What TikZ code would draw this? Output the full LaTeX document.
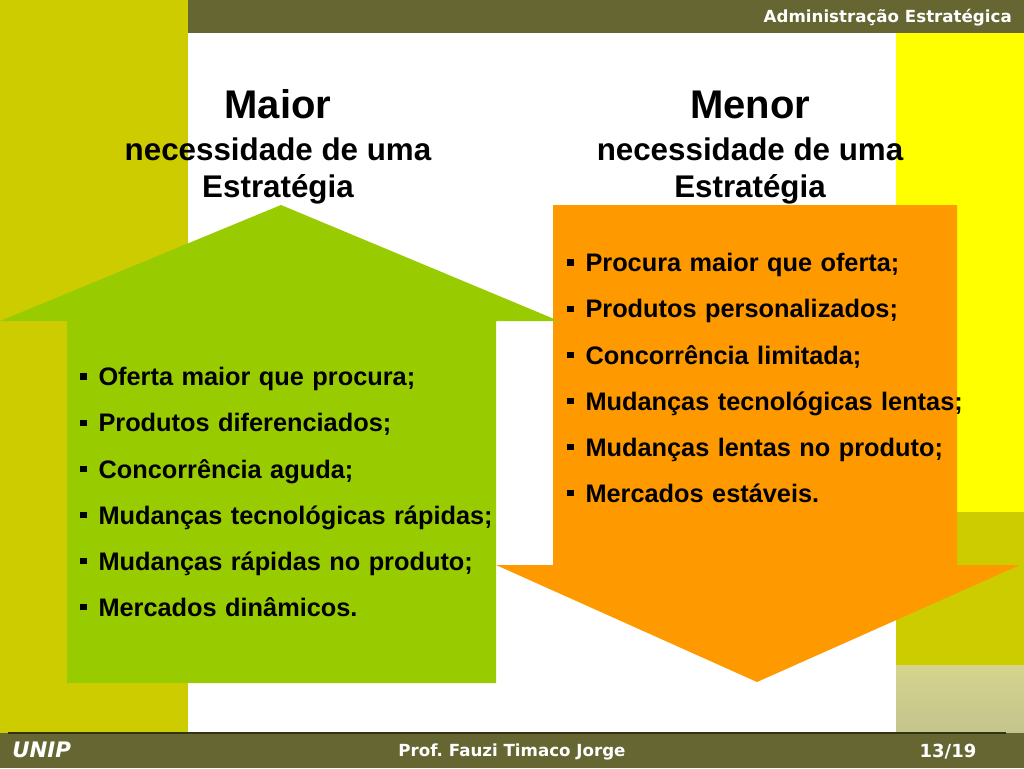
\documentclass[tikz,border=0pt]{standalone}
\usepackage{fontspec}
\setmainfont{Liberation Sans}
\newfontfamily\verdana{DejaVu Sans}
\usetikzlibrary{positioning}
\definecolor{unipolive}{HTML}{CCCC00}
\definecolor{unipdark}{HTML}{666633}
\definecolor{unipyellow}{HTML}{FFFF00}
\definecolor{unipgreen}{HTML}{99CC00}
\definecolor{uniporange}{HTML}{FF9900}
\definecolor{unipkhaki}{HTML}{D4D48C}
\definecolor{unipkhakib}{HTML}{C4C48E}
\definecolor{unipline}{HTML}{333311}
\newcommand{\sqb}{\raisebox{0.24em}{\rule{0.25em}{0.25em}}\hspace{0.47em}}

\begin{document}
\begin{tikzpicture}[x=0.75pt, y=-0.75pt,
        node distance=0pt,
        item/.style={inner sep=0pt, text width=310pt, align=left, minimum height=34.2pt, text height=0.72em, text depth=0pt, font=\fontsize{19}{22}\selectfont\bfseries},
        bighead/.style={anchor=base, inner sep=0pt, font=\fontsize{30}{34}\selectfont\bfseries},
        subhead/.style={anchor=base, inner sep=0pt, font=\fontsize{23.5}{27}\selectfont\bfseries},
        bartext/.style={inner sep=0pt, text=white, font=\verdana\fontsize{12.5}{14}\selectfont\bfseries}
    ]
        % Background
        \fill[white] (0,0) rectangle (1024,768);
        \fill[unipolive] (0,0) rectangle (188,733);
        \fill[unipdark] (188,0) rectangle (1024,33);
        \fill[unipyellow] (896,33) rectangle (1024,512);
        \fill[unipolive] (896,512) rectangle (1024,665);
        \shade[top color=unipkhaki, bottom color=unipkhakib] (896,665) rectangle (1024,733);
        \fill[unipdark] (0,733) rectangle (1024,768);
        \draw[unipline, line width=1.2pt] (8,733) -- (1006,733);

        % Arrows
        \fill[uniporange] (553,205) -- (957,205) -- (957,565) -- (1020,565) -- (757,682) -- (496,565) -- (553,565) -- cycle;
        \fill[unipgreen] (67,683) -- (67,321) -- (0,321) -- (281,205) -- (559,321) -- (496,321) -- (496,683) -- cycle;

        % Headings
        \node[bighead] (maior) at (278,118) {Maior};
        \node[subhead] (maiorsub) at (278,160) {necessidade de uma};
        \node[subhead] (maiorest) at (278,197) {Estratégia};
        \node[bighead] (menor) at (750,118) {Menor};
        \node[subhead] (menorsub) at (750,160) {necessidade de uma};
        \node[subhead] (menorest) at (750,197) {Estratégia};

        % Green side
        \node[item, anchor=west] (g1) at (80,381) {\sqb Oferta maior que procura;};
        \node[item, below=of g1] (g2) {\sqb Produtos diferenciados;};
        \node[item, below=of g2] (g3) {\sqb Concorrência aguda;};
        \node[item, below=of g3] (g4) {\sqb Mudanças tecnológicas rápidas;};
        \node[item, below=of g4] (g5) {\sqb Mudanças rápidas no produto;};
        \node[item, below=of g5] (g6) {\sqb Mercados dinâmicos.};

        % Orange side
        \node[item, anchor=west] (o1) at (567,267) {\sqb Procura maior que oferta;};
        \node[item, below=of o1] (o2) {\sqb Produtos personalizados;};
        \node[item, below=of o2] (o3) {\sqb Concorrência limitada;};
        \node[item, below=of o3] (o4) {\sqb Mudanças tecnológicas lentas;};
        \node[item, below=of o4] (o5) {\sqb Mudanças lentas no produto;};
        \node[item, below=of o5] (o6) {\sqb Mercados estáveis.};

        % Bars
        \node[bartext, anchor=east] (title) at (1012,18) {Administração Estratégica};
        \node[bartext, anchor=west, font=\verdana\fontsize{16}{18}\selectfont\bfseries\itshape] (unip) at (12,750) {UNIP};
        \node[bartext] (prof) at (512,752) {Prof.\ Fauzi Timaco Jorge};
        \node[bartext, font=\verdana\fontsize{13.5}{15}\selectfont\bfseries] (page) at (948,752) {13/19};
    \end{tikzpicture}
\end{document}
